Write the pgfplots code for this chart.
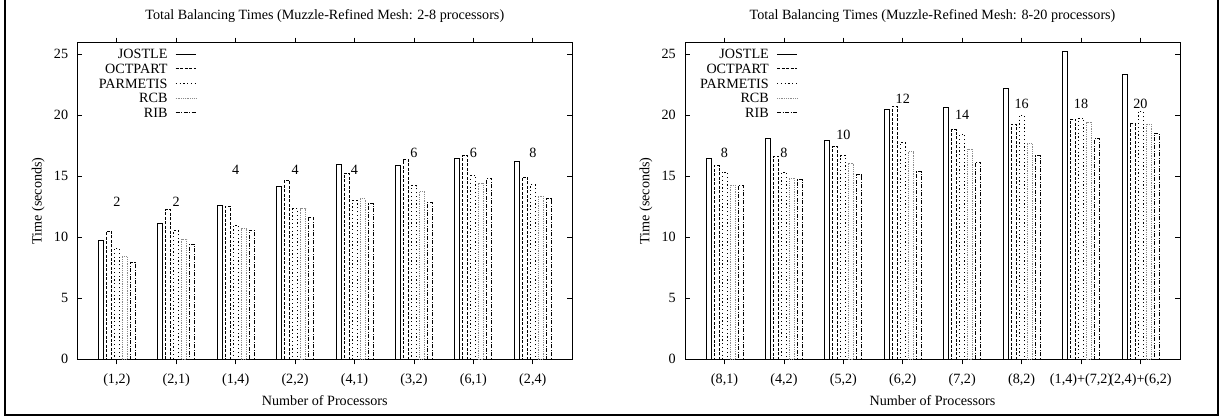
\documentclass[border=0pt]{standalone}
\usepackage{pgfplots}
\pgfplotsset{compat=1.18}
\usepackage{fontspec}
\setmainfont{Liberation Serif}
\begin{document}
\fontsize{14.2}{16}\selectfont
\begin{tikzpicture}
\useasboundingbox (0,0) rectangle (1221bp,417bp);
\draw[line width=2bp] (4.7bp,2.2bp) rectangle (1217.5bp,420bp);
\pgfplotsset{
  balstyle/.style={
    anchor=south west,
    scale only axis, width=495bp, height=316.6bp,
    xmin=0.335, xmax=8.665, ymin=0, ymax=25.95,
    enlargelimits=false,
    xtick={1,...,8}, ytick={0,5,...,25},
    tick align=inside, tick pos=both, major tick length=5bp,
    axis line style={line width=0.9bp},
    every tick/.style={line width=0.8bp, black},
    /pgf/number format/assume math mode=true,
    font=\fontsize{14.2}{16}\selectfont,
    yticklabel style={anchor=east, inner sep=0pt, xshift=-9bp},
    xticklabel style={anchor=base, inner sep=0pt, yshift=-19.3bp},
    ylabel={Time (seconds)},
    ylabel style={at={(axis description cs:-0.0788,0.5)}, anchor=center},
    xlabel={Number of Processors},
    xlabel style={at={(axis description cs:0.5,0)}, anchor=base, inner sep=0pt, yshift=-46bp},
    title style={at={(axis description cs:0.5,1)}, anchor=base, yshift=17bp},
    ybar=3bp, bar width=5bp,
  },
}
\tikzset{
  jo/.style={draw=black, fill=none, line width=0.8bp, solid},
  oc/.style={draw=black, fill=none, line width=0.8bp, dash pattern=on 3bp off 1.5bp},
  pm/.style={draw=black, fill=none, line width=0.8bp, dash pattern=on 1.2bp off 2.6bp},
  rc/.style={draw=black!45, fill=none, line width=0.8bp, dash pattern=on 1bp off 0.8bp},
  ri/.style={draw=black, fill=none, line width=0.8bp, dash pattern=on 4bp off 1.5bp on 1bp off 1.5bp},
}
% legend entry: #1 style, #2 name, #3 row index (0..4), #4 text right edge offset
\newcommand{\legrow}[4]{%
  \node[anchor=base east, inner sep=0pt] at ([xshift=#4, yshift={-16.2bp-14.6bp*#3}]axis description cs:0,1) {#2};
  \draw[#1] ([xshift={#4+8bp}, yshift={-11.6bp-14.6bp*#3}]axis description cs:0,1) -- ++(40bp,0);
}
\begin{axis}[balstyle, at={(77.3bp,57.7bp)},
  title={Total Balancing Times (Muzzle-Refined Mesh: 2-8 processors)},
  xticklabels={{(1,2)},{(2,1)},{(1,4)},{(2,2)},{(4,1)},{(3,2)},{(6,1)},{(2,4)}}]
\addplot[jo] coordinates {(1,9.78)(2,11.10)(3,12.64)(4,14.20)(5,15.99)(6,15.88)(7,16.43)(8,16.24)};
\addplot[oc] coordinates {(1,10.52)(2,12.25)(3,12.55)(4,14.67)(5,15.27)(6,16.37)(7,16.68)(8,14.95)};
\addplot[pm] coordinates {(1,9.09)(2,10.55)(3,10.99)(4,12.34)(5,13.02)(6,14.23)(7,15.08)(8,14.31)};
\addplot[rc] coordinates {(1,8.41)(2,9.84)(3,10.71)(4,12.36)(5,13.16)(6,13.76)(7,14.45)(8,13.38)};
\addplot[ri] coordinates {(1,7.91)(2,9.45)(3,10.60)(4,11.65)(5,12.75)(6,12.83)(7,14.81)(8,13.16)};
\legrow{jo}{JOSTLE}{0}{90.4bp}
\legrow{oc}{OCTPART}{1}{90.4bp}
\legrow{pm}{PARMETIS}{2}{90.4bp}
\legrow{rc}{RCB}{3}{90.4bp}
\legrow{ri}{RIB}{4}{90.4bp}
\node at (axis cs:1,12.94) {2};
\node at (axis cs:2,12.94) {2};
\node at (axis cs:3,15.49) {4};
\node at (axis cs:4,15.49) {4};
\node at (axis cs:5,15.49) {4};
\node at (axis cs:6,16.92) {6};
\node at (axis cs:7,16.92) {6};
\node at (axis cs:8,16.92) {8};
\end{axis}
\begin{axis}[balstyle, at={(685bp,57.7bp)},
  title={Total Balancing Times (Muzzle-Refined Mesh: 8-20 processors)},
  xticklabels={{(8,1)},{(4,2)},{(5,2)},{(6,2)},{(7,2)},{(8,2)},{(1,4)+(7,2)},{(2,4)+(6,2)}}]
\addplot[jo] coordinates {(1,16.46)(2,18.10)(3,17.91)(4,20.49)(5,20.63)(6,22.20)(7,25.22)(8,23.38)};
\addplot[oc] coordinates {(1,15.88)(2,16.65)(3,17.42)(4,20.74)(5,18.82)(6,19.26)(7,19.70)(8,19.37)};
\addplot[pm] coordinates {(1,15.36)(2,15.33)(3,16.70)(4,17.75)(5,18.43)(6,20.00)(7,19.78)(8,20.33)};
\addplot[rc] coordinates {(1,14.26)(2,14.86)(3,16.07)(4,17.03)(5,17.20)(6,17.69)(7,19.45)(8,19.26)};
\addplot[ri] coordinates {(1,14.23)(2,14.73)(3,15.14)(4,15.38)(5,16.15)(6,16.70)(7,18.08)(8,18.52)};
\legrow{jo}{JOSTLE}{0}{84bp}
\legrow{oc}{OCTPART}{1}{84bp}
\legrow{pm}{PARMETIS}{2}{84bp}
\legrow{rc}{RCB}{3}{84bp}
\legrow{ri}{RIB}{4}{84bp}
\node at (axis cs:1,16.92) {8};
\node at (axis cs:2,16.92) {8};
\node at (axis cs:3,18.43) {10};
\node at (axis cs:4,21.37) {12};
\node at (axis cs:5,20.00) {14};
\node at (axis cs:6,20.90) {16};
\node at (axis cs:7,20.90) {18};
\node at (axis cs:8,20.90) {20};
\end{axis}
\end{tikzpicture}
\end{document}
